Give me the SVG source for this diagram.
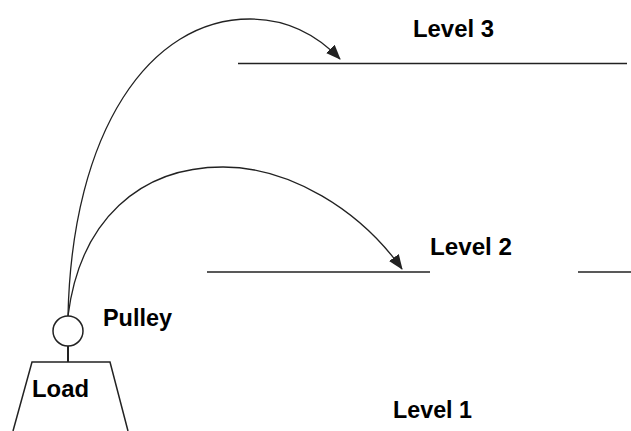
<svg xmlns="http://www.w3.org/2000/svg" width="631" height="431" viewBox="0 0 631 431">
<style>
.t{font-family:"Liberation Sans",Arial,sans-serif;font-weight:bold;font-size:23px;fill:#000}
.ln{stroke:#222;stroke-width:1.6;fill:none}
.c{stroke:#222;stroke-width:1.3;fill:none}
</style>
<defs>
<marker id="ah" markerWidth="15" markerHeight="12" refX="14" refY="6" orient="auto" markerUnits="userSpaceOnUse">
<path d="M0,0 L15,6 L0,12 Z" fill="#222"/>
</marker>
</defs>
<rect width="631" height="431" fill="#fff"/>
<g id="level3">
<line class="ln" x1="238" y1="63.5" x2="627" y2="63.5"/>
<text class="t" x="413" y="37" textLength="81" lengthAdjust="spacingAndGlyphs">Level 3</text>
</g>
<g id="level2">
<line class="ln" x1="207" y1="272" x2="430" y2="272"/>
<line class="ln" x1="578" y1="272" x2="631" y2="272"/>
<text class="t" x="430" y="255" textLength="82" lengthAdjust="spacingAndGlyphs">Level 2</text>
</g>
<g id="level1">
<text class="t" x="393" y="418" textLength="79" lengthAdjust="spacingAndGlyphs">Level 1</text>
</g>
<g id="pulley">
<circle cx="68" cy="331" r="15" fill="#fff" stroke="#222" stroke-width="1.5"/>
<text class="t" x="103" y="326" textLength="69" lengthAdjust="spacingAndGlyphs">Pulley</text>
</g>
<g id="load">
<line x1="68" y1="346" x2="68" y2="362" stroke="#222" stroke-width="2"/>
<path d="M13,431 L32,362 L110,362 L128,431" fill="none" stroke="#222" stroke-width="1.5"/>
<text class="t" x="32" y="397" textLength="57" lengthAdjust="spacingAndGlyphs">Load</text>
</g>
<g id="connectors">
<path class="c" d="M68,316 C72,130 150,19 250,19 C290,19 318,36 340,59" marker-end="url(#ah)"/>
<path class="c" d="M68,316 C80,220 140,167 223,167 C290,167 360,210 402,269" marker-end="url(#ah)"/>
</g>
</svg>
